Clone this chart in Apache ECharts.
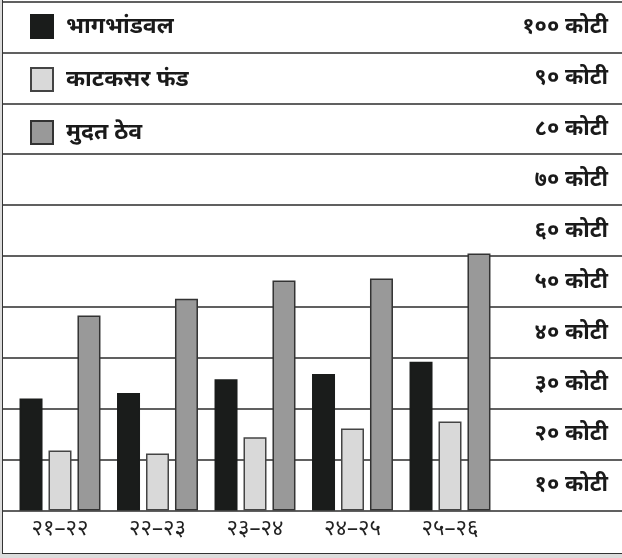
<!DOCTYPE html>
<html>
<head>
<meta charset="utf-8">
<script src="https://cdn.jsdelivr.net/npm/echarts@6/dist/echarts.min.js"></script>
<style>
  html, body { margin: 0; padding: 0; background: #dcdcdc; }
  #frame {
    position: absolute; left: 2px; top: 0; width: 620px; height: 553px;
    background: #fff; border-left: 1.5px solid #333; border-bottom: 1.5px solid #333;
  }
  #chart_bar { position: absolute; left: 0; top: 0; width: 622px; height: 558px; }
</style>
</head>
<body>
<div id="frame"></div>
<div id="chart_bar"></div>
<script>
const categories = ['२१–२२', '२२–२३', '२३–२४', '२४–२५', '२५–२६']
const seriesNames = ['भागभांडवल', 'काटकसर फंड', 'मुदत ठेव']
const bhagbhandval = [22.0, 23.1, 25.8, 26.8, 29.2]
const katkasarFund = [11.8, 11.2, 14.4, 16.1, 17.5]
const mudatThev = [38.3, 41.6, 45.2, 45.6, 50.5]
// band labels, bottom to top
const yLabels = ['१० कोटी', '२० कोटी', '३० कोटी', '४० कोटी', '५० कोटी',
  '६० कोटी', '७० कोटी', '८० कोटी', '९० कोटी', '१०० कोटी']

const font = 'Noto Sans, sans-serif'
const chart = echarts.init(document.getElementById('chart_bar'))

function barSeries(name, data, color, border) {
  return {
    name: name,
    type: 'bar',
    xAxisIndex: 1,
    yAxisIndex: 2,
    barWidth: 23,
    barGap: '26%',
    itemStyle: { color: color, borderColor: border, borderWidth: 1.5 },
    data: data
  }
}

chart.setOption({
  animation: false,
  legend: {
    orient: 'vertical',
    left: 30,
    top: 14,
    padding: 0,
    itemWidth: 22,
    itemHeight: 23,
    itemGap: 28,
    icon: 'rect',
    textStyle: { fontSize: 23, fontWeight: 'bold', color: '#1a1a1a', fontFamily: font, padding: [0, 0, 0, 8] },
    data: seriesNames
  },
  grid: [
    { left: 3, right: 0, top: 1.5, bottom: 47.5 },
    { left: 11.25, width: 487.5, top: 1.5, bottom: 47.5 }
  ],
  xAxis: [
    { gridIndex: 0, type: 'value', min: 0, max: 1, show: false },
    {
      gridIndex: 1,
      type: 'category',
      data: categories,
      axisLine: { show: false },
      axisTick: { show: false },
      axisLabel: { fontSize: 22, color: '#222', fontFamily: font, margin: 7 }
    }
  ],
  yAxis: [
    {
      gridIndex: 0,
      type: 'value',
      min: 0,
      max: 100,
      interval: 10,
      axisLine: { show: false },
      axisTick: { show: false },
      axisLabel: { show: false },
      splitLine: { lineStyle: { type: 'solid', color: '#2b2b2b', width: 1.5 } }
    },
    {
      gridIndex: 0,
      type: 'category',
      position: 'right',
      data: yLabels,
      axisLine: { show: false },
      axisTick: { show: false },
      splitLine: { show: false },
      axisLabel: { inside: true, margin: 14, fontSize: 22, fontWeight: 'bold', color: '#1a1a1a', fontFamily: font }
    },
    { gridIndex: 1, type: 'value', min: 0, max: 100, show: false }
  ],
  series: [
    barSeries(seriesNames[0], bhagbhandval, '#1a1c1b', '#1a1c1b'),
    barSeries(seriesNames[1], katkasarFund, '#d9d9d9', '#444'),
    barSeries(seriesNames[2], mudatThev, '#999999', '#333')
  ]
})
</script>
</body>
</html>
